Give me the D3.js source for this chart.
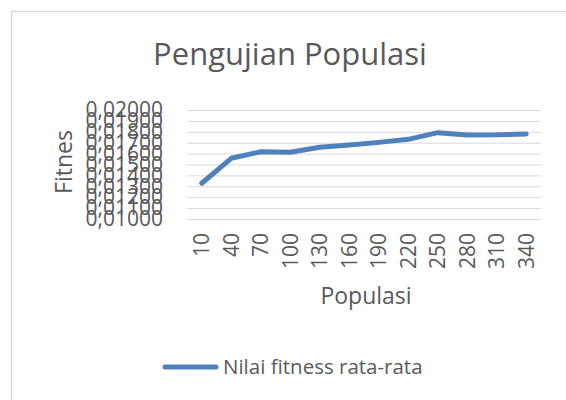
<!DOCTYPE html>
<html lang="en">
<head>
    <meta charset="utf-8">
    <title>Pengujian Populasi</title>
    <script type="text/javascript" src="https://d3js.org/d3.v7.min.js"></script>
    <style>
     body { margin: 0; background: white; }
     text { font-family: "Open Sans", sans-serif; fill: #595959; }
     .grid line { stroke: #d9d9d9; stroke-width: 1; }
     .grid path { display: none; }
     .axisy path, .axisy line, .axisx path, .axisx line { display: none; }
    </style>
</head>
<body>
    <div id="line-chart"></div>
    <script type="text/javascript">
        const categories = ["10", "40", "70", "100", "130", "160", "190", "220", "250", "280", "310", "340"];
        const fitness = [0.01328, 0.01557, 0.01617, 0.01612, 0.01658, 0.01679, 0.01703, 0.01731, 0.01792, 0.01771, 0.01772, 0.01780];
        const yTicks = [0.010, 0.011, 0.012, 0.013, 0.014, 0.015, 0.016, 0.017, 0.018, 0.019, 0.020];

        const width = 566;
        const height = 400;
        const marginLeft = 187;
        const marginRight = 25;
        const marginTop = 110;
        const plotBottom = 219;

        const svg = d3.select("#line-chart")
            .append("svg")
            .attr("width", width)
            .attr("height", height);

        // chart border
        svg.append("rect")
            .attr("x", 11.5)
            .attr("y", 11.5)
            .attr("width", width)
            .attr("height", height)
            .attr("fill", "none")
            .attr("stroke", "#d9d9d9")
            .attr("stroke-width", 1.5);

        const xScale = d3.scaleBand()
            .domain(categories)
            .range([marginLeft, width - marginRight]);

        const yScale = d3.scaleLinear()
            .domain([0.01, 0.02])
            .range([plotBottom, marginTop]);

        const locale = d3.formatLocale({decimal: ",", thousands: ".", grouping: [3], currency: ["", ""]});
        const fmt = locale.format(".5f");

        // gridlines
        svg.append("g")
            .attr("class", "grid")
            .attr("transform", "translate(" + marginLeft + ",0)")
            .call(d3.axisLeft(yScale).tickValues(yTicks).tickSize(-(width - marginRight - marginLeft)).tickFormat(""));

        // y axis
        svg.append("g")
            .attr("class", "axisy")
            .attr("transform", "translate(" + 171 + ",0)")
            .call(d3.axisLeft(yScale).tickValues(yTicks).tickSize(0).tickPadding(8).tickFormat(fmt))
            .selectAll("text")
                .style("font-size", "21px")
                .style("fill", "#595959");

        // x axis
        svg.append("g")
            .attr("class", "axisx")
            .attr("transform", "translate(0," + plotBottom + ")")
            .call(d3.axisBottom(xScale).tickSize(0))
            .selectAll("text")
                .style("font-size", "21px")
                .style("fill", "#595959")
                .attr("text-anchor", "end")
                .attr("transform", "rotate(-90)")
                .attr("x", -14)
                .attr("y", 0)
                .attr("dy", "0.35em");

        // line
        const line = d3.line()
            .x((d, i) => xScale(categories[i]) + xScale.bandwidth() / 2)
            .y(d => yScale(d));

        svg.append("path")
            .datum(fitness)
            .attr("d", line)
            .attr("fill", "none")
            .attr("stroke", "#4f81bd")
            .attr("stroke-width", 5)
            .attr("stroke-linecap", "round")
            .attr("stroke-linejoin", "round");

        // title
        svg.append("text")
            .attr("x", 290)
            .attr("y", 65)
            .attr("text-anchor", "middle")
            .style("font-size", "31px")
            .text("Pengujian Populasi");

        // axis titles
        svg.append("text")
            .attr("transform", "translate(72,162) rotate(-90)")
            .attr("text-anchor", "middle")
            .style("font-size", "23px")
            .text("Fitnes");

        svg.append("text")
            .attr("x", 366)
            .attr("y", 304)
            .attr("text-anchor", "middle")
            .style("font-size", "23px")
            .text("Populasi");

        // legend
        svg.append("line")
            .attr("x1", 165)
            .attr("x2", 216)
            .attr("y1", 367)
            .attr("y2", 367)
            .attr("stroke", "#4f81bd")
            .attr("stroke-width", 5)
            .attr("stroke-linecap", "round");

        svg.append("text")
            .attr("x", 223)
            .attr("y", 374)
            .style("font-size", "20.5px")
            .text("Nilai fitness rata-rata");
    </script>
</body>
</html>
